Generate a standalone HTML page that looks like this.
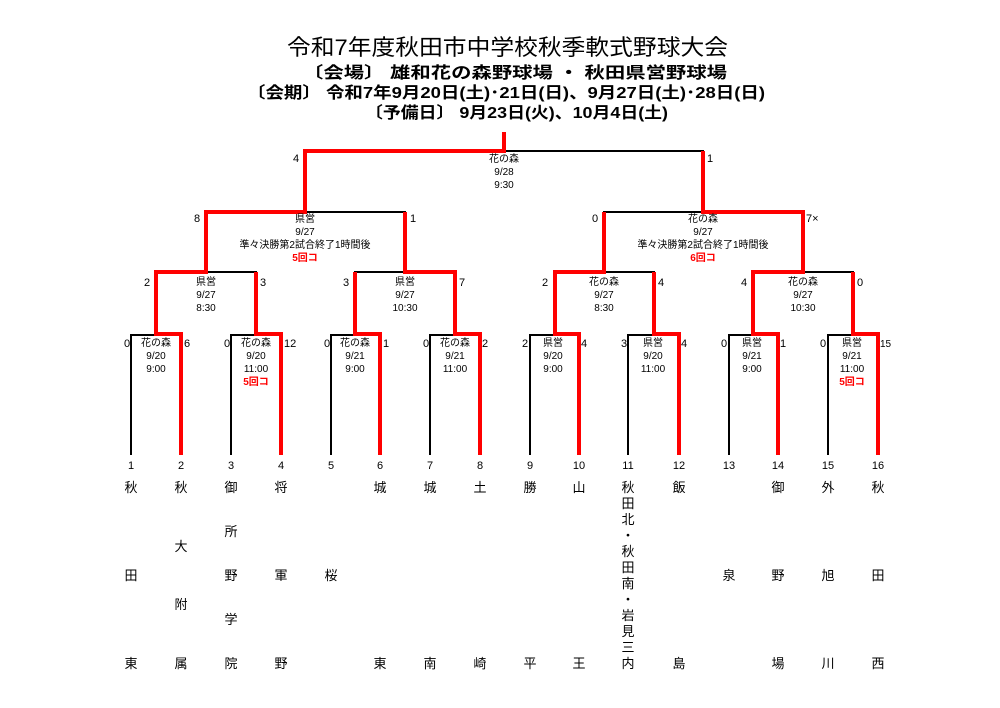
<!DOCTYPE html>
<html><head><meta charset="utf-8"><style>
html,body{margin:0;padding:0;background:#fff;}
svg{display:block;}
text{font-family:"Liberation Sans","Noto Sans CJK JP",sans-serif;fill:#000;}
.s{font-size:10px;text-anchor:middle;}
.r{fill:#f00;font-weight:bold;}
.sc{font-size:11px;}
.nm{font-size:13px;text-anchor:middle;}
.h{font-weight:bold;font-size:16px;}
</style></head><body>
<svg width="1000" height="708" viewBox="0 0 1000 708" xmlns="http://www.w3.org/2000/svg">
<text x="287" y="55" font-size="22" textLength="441" lengthAdjust="spacingAndGlyphs">令和7年度秋田市中学校秋季軟式野球大会</text>
<text class="h" x="303" y="78" textLength="424" lengthAdjust="spacingAndGlyphs">〔会場〕 雄和花の森野球場 ・ 秋田県営野球場</text>
<text class="h" x="247" y="98" textLength="518" lengthAdjust="spacingAndGlyphs">〔会期〕 令和7年9月20日(土)･21日(日)、9月27日(土)･28日(日)</text>
<text class="h" x="365" y="118" textLength="303" lengthAdjust="spacingAndGlyphs">〔予備日〕 9月23日(火)、10月4日(土)</text>

<g stroke="#000" stroke-width="2" fill="none">
<!-- R1 -->
<path d="M131,455V335H181V455"/><path d="M231,455V335H281V455"/>
<path d="M331,455V335H380V455"/><path d="M430,455V335H480V455"/>
<path d="M530,455V335H579V455"/><path d="M628,455V335H679V455"/>
<path d="M729,455V335H778V455"/><path d="M828,455V335H878V455"/>
<!-- R2 -->
<path d="M156,335V272H256V335"/><path d="M355,335V272H455V335"/>
<path d="M555,335V272H654V335"/><path d="M753,335V272H853V335"/>
<!-- R3 -->
<path d="M206,272V212H405V272"/><path d="M604,272V212H803V272"/>
<!-- F -->
<path d="M305,212V151H703V212"/>
</g>
<g stroke="#f00" stroke-width="4" fill="none">
<path d="M181,455V334H156V272H206V212H305V151H504V132"/>
<path d="M281,455V334H256V272"/>
<path d="M380,455V334H355V272"/>
<path d="M480,455V334H455V272H405V212"/>
<path d="M579,455V334H555V272H604V212"/>
<path d="M679,455V334H654V272"/>
<path d="M778,455V334H753V272H803V212H703V151"/>
<path d="M878,455V334H853V272"/>
</g>

<!-- Final labels -->
<text class="s" x="504" y="162">花の森</text><text class="s" x="504" y="175">9/28</text><text class="s" x="504" y="188">9:30</text>
<text class="sc" x="293" y="162">4</text><text class="sc" x="707" y="162">1</text>
<!-- R3 -->
<text class="s" x="305" y="222">県営</text><text class="s" x="305" y="235">9/27</text><text class="s" x="305" y="248">準々決勝第2試合終了1時間後</text><text class="s r" x="305" y="261">5回コ</text>
<text class="sc" x="194" y="222">8</text><text class="sc" x="410" y="222">1</text>
<text class="s" x="703" y="222">花の森</text><text class="s" x="703" y="235">9/27</text><text class="s" x="703" y="248">準々決勝第2試合終了1時間後</text><text class="s r" x="703" y="261">6回コ</text>
<text class="sc" x="592" y="222">0</text><text class="sc" x="806" y="222">7×</text>
<!-- R2 -->
<g class="s">
<text x="206" y="285">県営</text><text x="206" y="298">9/27</text><text x="206" y="311">8:30</text>
<text x="405" y="285">県営</text><text x="405" y="298">9/27</text><text x="405" y="311">10:30</text>
<text x="604" y="285">花の森</text><text x="604" y="298">9/27</text><text x="604" y="311">8:30</text>
<text x="803" y="285">花の森</text><text x="803" y="298">9/27</text><text x="803" y="311">10:30</text>
</g>
<g class="sc">
<text x="144" y="286">2</text><text x="260" y="286">3</text>
<text x="343" y="286">3</text><text x="459" y="286">7</text>
<text x="542" y="286">2</text><text x="658" y="286">4</text>
<text x="741" y="286">4</text><text x="857" y="286">0</text>
</g>
<!-- R1 -->
<g class="s">
<text x="156" y="346">花の森</text><text x="156" y="359">9/20</text><text x="156" y="372">9:00</text>
<text x="256" y="346">花の森</text><text x="256" y="359">9/20</text><text x="256" y="372">11:00</text><text class="r" x="256" y="385">5回コ</text>
<text x="355" y="346">花の森</text><text x="355" y="359">9/21</text><text x="355" y="372">9:00</text>
<text x="455" y="346">花の森</text><text x="455" y="359">9/21</text><text x="455" y="372">11:00</text>
<text x="553" y="346">県営</text><text x="553" y="359">9/20</text><text x="553" y="372">9:00</text>
<text x="653" y="346">県営</text><text x="653" y="359">9/20</text><text x="653" y="372">11:00</text>
<text x="752" y="346">県営</text><text x="752" y="359">9/21</text><text x="752" y="372">9:00</text>
<text x="852" y="346">県営</text><text x="852" y="359">9/21</text><text x="852" y="372">11:00</text><text class="r" x="852" y="385">5回コ</text>
</g>
<g class="sc">
<text x="124" y="347">0</text><text x="184" y="347">6</text>
<text x="224" y="347">0</text><text x="284" y="347">12</text>
<text x="324" y="347">0</text><text x="383" y="347">1</text>
<text x="423" y="347">0</text><text x="482" y="347">2</text>
<text x="522" y="347">2</text><text x="581" y="347">4</text>
<text x="621" y="347">3</text><text x="681" y="347">4</text>
<text x="721" y="347">0</text><text x="780" y="347">1</text>
<text x="820" y="347">0</text><text x="880" y="347" font-size="10">15</text>
</g>
<!-- numbers -->
<g class="sc" text-anchor="middle">
<text x="131" y="469">1</text><text x="181" y="469">2</text><text x="231" y="469">3</text><text x="281" y="469">4</text>
<text x="331" y="469">5</text><text x="380" y="469">6</text><text x="430" y="469">7</text><text x="480" y="469">8</text>
<text x="530" y="469">9</text><text x="579" y="469">10</text><text x="628" y="469">11</text><text x="679" y="469">12</text>
<text x="729" y="469">13</text><text x="778" y="469">14</text><text x="828" y="469">15</text><text x="878" y="469">16</text>
</g>
<!-- names -->
<g class="nm">
<text x="131" y="492">秋</text><text x="131" y="580">田</text><text x="131" y="668">東</text>
<text x="181" y="492">秋</text><text x="181" y="551">大</text><text x="181" y="609">附</text><text x="181" y="668">属</text>
<text x="231" y="492">御</text><text x="231" y="536">所</text><text x="231" y="580">野</text><text x="231" y="624">学</text><text x="231" y="668">院</text>
<text x="281" y="492">将</text><text x="281" y="580">軍</text><text x="281" y="668">野</text>
<text x="331" y="580">桜</text>
<text x="380" y="492">城</text><text x="380" y="668">東</text>
<text x="430" y="492">城</text><text x="430" y="668">南</text>
<text x="480" y="492">土</text><text x="480" y="668">崎</text>
<text x="530" y="492">勝</text><text x="530" y="668">平</text>
<text x="579" y="492">山</text><text x="579" y="668">王</text>
<text x="628" y="492">秋</text><text x="628" y="508">田</text><text x="628" y="524">北</text><text x="628" y="540">・</text><text x="628" y="556">秋</text><text x="628" y="572">田</text><text x="628" y="588">南</text><text x="628" y="604">・</text><text x="628" y="620">岩</text><text x="628" y="636">見</text><text x="628" y="652">三</text><text x="628" y="668">内</text>
<text x="679" y="492">飯</text><text x="679" y="668">島</text>
<text x="729" y="580">泉</text>
<text x="778" y="492">御</text><text x="778" y="580">野</text><text x="778" y="668">場</text>
<text x="828" y="492">外</text><text x="828" y="580">旭</text><text x="828" y="668">川</text>
<text x="878" y="492">秋</text><text x="878" y="580">田</text><text x="878" y="668">西</text>
</g>
</svg>
</body></html>
